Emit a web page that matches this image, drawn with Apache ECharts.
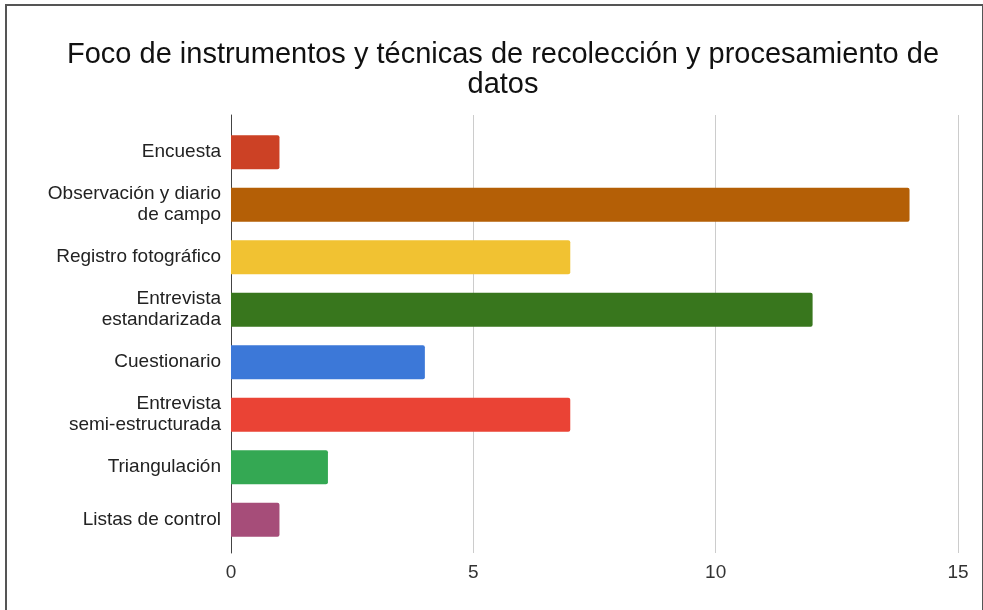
<!DOCTYPE html>
<html>
<head>
    <meta charset="utf-8">
    <title>Foco de instrumentos</title>
    <script type="text/javascript" src="https://cdn.jsdelivr.net/npm/echarts@6/dist/echarts.min.js"></script>
    <style>
        body { margin: 0; background: #fff; }
        #frame { position: absolute; left: 5px; top: 4px; width: 975px; height: 620px;
                 border-left: 2px solid #555; border-top: 2px solid #555; border-right: 2px solid #555; }
        #main { position: absolute; left: 0; top: 0; width: 983px; height: 610px; }
    </style>
</head>
<body>
    <div id="frame"></div>
    <div id="main"></div>
    <script type="text/javascript">
    var categories = ['Encuesta', 'Observación y diario\nde campo', 'Registro fotográfico',
        'Entrevista\nestandarizada', 'Cuestionario', 'Entrevista\nsemi-estructurada',
        'Triangulación', 'Listas de control'];
    var values = [1, 14, 7, 12, 4, 7, 2, 1];
    var colors = ['#cc4125', '#b45f06', '#f1c232', '#38761d', '#3c78d8', '#ea4335', '#34a853', '#a64d79'];
    var xTicks = [0, 5, 10, 15];

    var myChart = echarts.init(document.getElementById('main'));

    var barData = [];
    for (var i = 0; i < values.length; i++) {
        barData.push({ value: values[i], itemStyle: { color: colors[i] } });
    }

    var font = 'Liberation Sans, Arial';

    var option = {
        animation: false,
        title: {
            text: 'Foco de instrumentos y técnicas de recolección y procesamiento de\ndatos',
            left: 498,
            textAlign: 'center',
            top: 35,
            textStyle: {
                fontFamily: font,
                fontWeight: 'normal',
                fontSize: 29,
                lineHeight: 30,
                color: '#111'
            }
        },
        // grid 0 holds the bars, grid 1 draws the taller gridlines / axis line
        grid: [{
            left: 231,
            right: 25,
            top: 126,
            bottom: 64
        }, {
            left: 231,
            right: 25,
            top: 115,
            bottom: 57
        }],
        xAxis: [{
            gridIndex: 0,
            type: 'value',
            min: xTicks[0],
            max: xTicks[xTicks.length - 1],
            interval: 5,
            axisLine: { show: false },
            axisTick: { show: false },
            axisLabel: { show: false },
            splitLine: { show: false }
        }, {
            gridIndex: 1,
            type: 'value',
            min: xTicks[0],
            max: xTicks[xTicks.length - 1],
            interval: 5,
            axisLine: { show: false },
            axisTick: { show: false },
            axisLabel: {
                margin: 10,
                fontFamily: font,
                fontSize: 19,
                color: '#333'
            },
            splitLine: { lineStyle: { color: '#cccccc', width: 1 } }
        }],
        yAxis: [{
            gridIndex: 0,
            type: 'category',
            inverse: true,
            data: categories,
            axisLine: { show: false },
            axisTick: { show: false },
            axisLabel: {
                margin: 10,
                fontFamily: font,
                fontSize: 19,
                lineHeight: 21,
                color: '#222',
                align: 'right'
            }
        }, {
            gridIndex: 1,
            type: 'value',
            min: 0,
            max: 1,
            axisLine: { show: true, lineStyle: { color: '#444', width: 1 } },
            axisTick: { show: false },
            axisLabel: { show: false },
            splitLine: { show: false }
        }],
        series: [{
            type: 'bar',
            xAxisIndex: 0,
            yAxisIndex: 0,
            data: barData,
            barWidth: 34,
            z: 3,
            itemStyle: { borderRadius: [0, 2, 2, 0] }
        }]
    };
    myChart.setOption(option);
    </script>
</body>
</html>
